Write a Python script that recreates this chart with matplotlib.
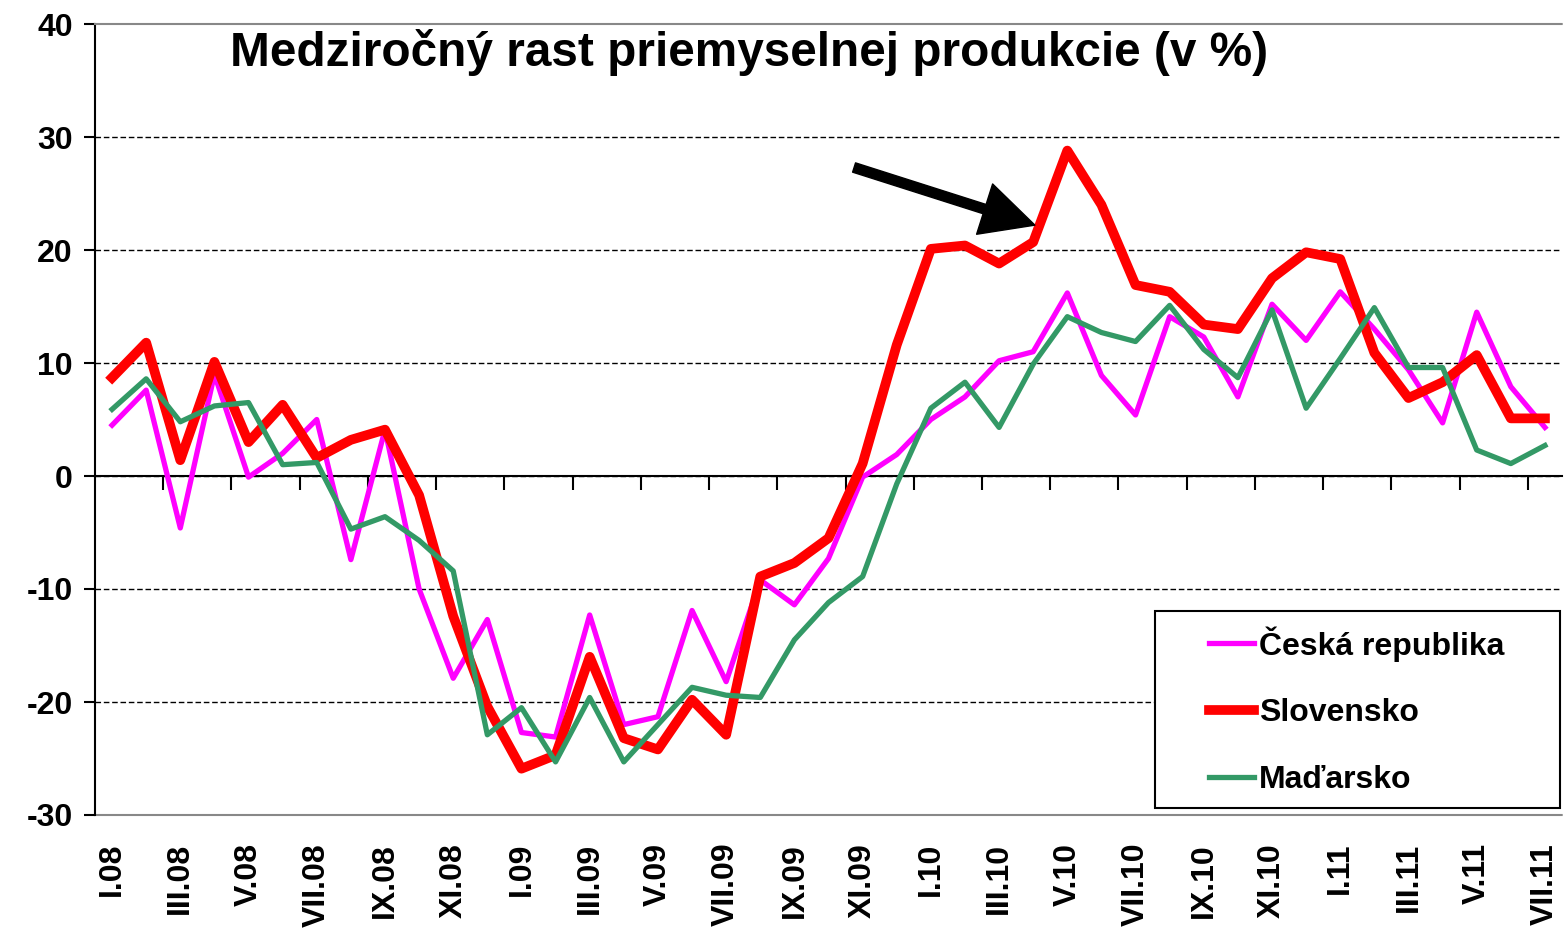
import matplotlib
matplotlib.use("Agg")
import matplotlib.pyplot as plt
from matplotlib.patches import Rectangle

plt.rcParams['font.family'] = ['Liberation Sans', 'DejaVu Sans']
plt.rcParams['font.weight'] = 'bold'

# ---------- Data ----------
months = ["I.08", "II.08", "III.08", "IV.08", "V.08", "VI.08", "VII.08", "VIII.08",
          "IX.08", "X.08", "XI.08", "XII.08",
          "I.09", "II.09", "III.09", "IV.09", "V.09", "VI.09", "VII.09", "VIII.09",
          "IX.09", "X.09", "XI.09", "XII.09",
          "I.10", "II.10", "III.10", "IV.10", "V.10", "VI.10", "VII.10", "VIII.10",
          "IX.10", "X.10", "XI.10", "XII.10",
          "I.11", "II.11", "III.11", "IV.11", "V.11", "VI.11", "VII.11"]

cesko = [4.5, 7.6, -4.6, 9.0, -0.1, 2.0, 5.0, -7.4, 4.1, -10.0, -17.9, -12.7,
         -22.7, -23.1, -12.3, -22.0, -21.3, -11.9, -18.2, -9.2, -11.4, -7.3, -0.1, 1.9,
         5.0, 7.0, 10.2, 11.0, 16.2, 8.9, 5.4, 14.1, 12.3, 7.0, 15.2, 12.0,
         16.3, 13.0, 9.4, 4.7, 14.5, 7.9, 4.3]

slovensko = [8.7, 11.8, 1.4, 10.1, 3.0, 6.3, 1.6, 3.2, 4.1, -1.7, -12.4, -20.4,
             -25.9, -24.7, -16.0, -23.2, -24.2, -19.8, -22.9, -8.9, -7.7, -5.5, 1.1, 11.6,
             20.1, 20.4, 18.8, 20.7, 28.8, 24.0, 16.9, 16.3, 13.4, 13.0, 17.5, 19.8,
             19.2, 10.9, 6.9, 8.3, 10.7, 5.1, 5.1]

madarsko = [5.9, 8.6, 4.8, 6.2, 6.5, 1.0, 1.2, -4.7, -3.6, -5.7, -8.4, -22.9,
            -20.5, -25.3, -19.6, -25.3, -22.0, -18.7, -19.4, -19.6, -14.5, -11.2, -8.9, -0.7,
            6.0, 8.3, 4.3, 9.9, 14.1, 12.7, 11.9, 15.1, 11.2, 8.7, 14.7, 6.0,
            10.4, 14.9, 9.6, 9.6, 2.3, 1.1, 2.7]

yticks = [-30, -20, -10, 0, 10, 20, 30, 40]

# ---------- Figure ----------
fig = plt.figure(figsize=(15.64, 9.30), dpi=100)
ax = fig.add_axes([95 / 1564, 1 - 815 / 930, 1467 / 1564, 791 / 930])

x = list(range(len(months)))
ax.plot(x, cesko, color="#FF00FF", lw=3.8, label="Česká republika", zorder=3)
ax.plot(x, slovensko, color="#FF0000", lw=7, label="Slovensko", zorder=4)
ax.plot(x, madarsko, color="#339966", lw=3.8, label="Maďarsko", zorder=5)

ax.set_xlim(-0.5, len(months) - 0.5)
ax.set_ylim(-30, 40)

# y axis
ax.set_yticks(yticks)
ax.set_yticklabels([str(v) for v in yticks], fontsize=23, fontweight='bold')
ax.tick_params(axis='y', direction='out', length=8, width=1.5, pad=8)
ax.yaxis.grid(True, color='black', linestyle=(0, (4, 2)), linewidth=1.0)
grid = ax.get_ygridlines()
grid[0].set_visible(False)
grid[-1].set_visible(False)
ax.set_axisbelow(True)

ax.spines['left'].set_linewidth(1.5)
ax.spines['right'].set_visible(False)
ax.spines['top'].set_color('#888888')
ax.spines['top'].set_linestyle((0, (2, 1)))
ax.spines['top'].set_linewidth(1.5)

# x axis line at zero with tick marks between every other month
ax.spines['bottom'].set_position(('data', 0))
ax.spines['bottom'].set_linewidth(1.5)
ax.set_xticks([i + 1.5 for i in range(0, len(months) - 1, 2)])
ax.tick_params(axis='x', direction='out', length=10, width=1.5, labelbottom=False)

# labels at the bottom of the plot area
sec = ax.secondary_xaxis(0.0)
sec.set_xticks(x[::2])
sec.set_xticklabels(months[::2], rotation=90, fontsize=23, fontweight='bold')
sec.tick_params(axis='x', length=0, pad=20)
sec.spines['bottom'].set_color('#888888')
sec.spines['bottom'].set_linestyle((0, (2, 1)))
sec.spines['bottom'].set_linewidth(1.5)

# title
fig.text(230 / 1564, 1 - 52 / 930, "Medziročný rast priemyselnej produkcie (v %)",
         fontsize=34.4, fontweight='bold', ha='left', va='center')

# arrow pointing at IV.10 Slovensko
ax.annotate("", xy=(27.05, slovensko[27] + 1.5), xytext=(21.75, 27.3),
            arrowprops=dict(facecolor='black', edgecolor='black', width=7,
                            headwidth=38, headlength=38, shrink=0), zorder=6)

# legend box and entries
box = Rectangle((0.7226, 0.0088), 0.2760, 0.2490, transform=ax.transAxes,
                facecolor='white', edgecolor='black', linewidth=1.5, zorder=9)
ax.add_patch(box)
leg = ax.legend(loc='upper left', bbox_to_anchor=(0.7597, 0.2389),
                fontsize=23, frameon=False, handlelength=1.4, handletextpad=0.15,
                labelspacing=1.15, borderpad=0, borderaxespad=0)
leg.set_zorder(10)
for t in leg.get_texts():
    t.set_fontweight('bold')

fig.savefig("out.png", dpi=100)
